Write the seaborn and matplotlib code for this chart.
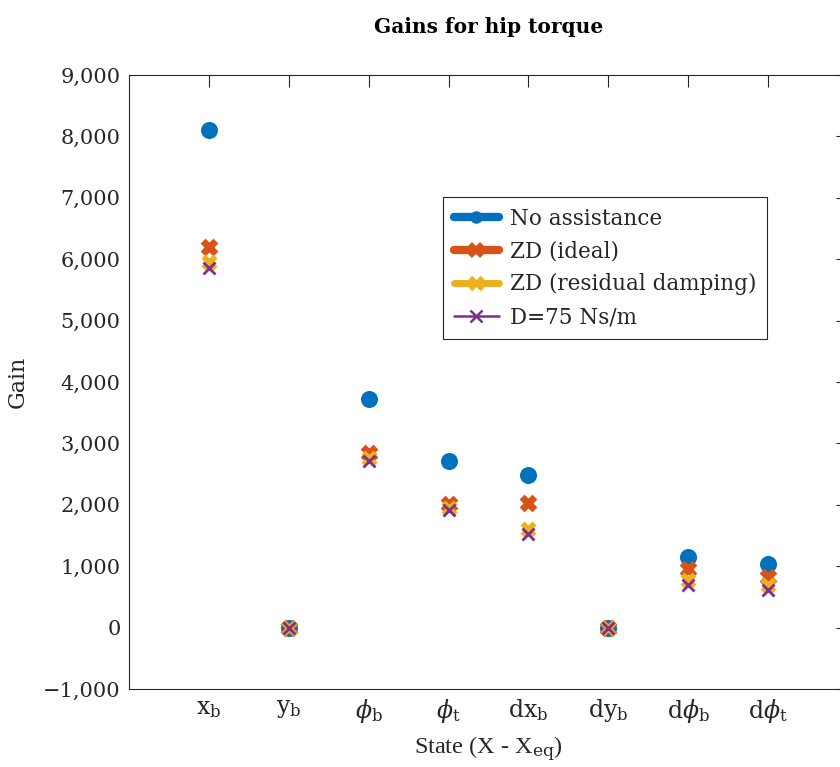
import numpy as np
import pandas as pd
import matplotlib
matplotlib.use("Agg")
import matplotlib.pyplot as plt
from matplotlib.lines import Line2D
from matplotlib.ticker import FixedLocator, FuncFormatter
import seaborn as sns

# State labels and controller gains for each assistance case
states = [r"$\mathrm{x_b}$", r"$\mathrm{y_b}$", r"$\phi_\mathrm{b}$", r"$\phi_\mathrm{t}$",
          r"$\mathrm{dx_b}$", r"$\mathrm{dy_b}$", r"$\mathrm{d}\phi_\mathrm{b}$", r"$\mathrm{d}\phi_\mathrm{t}$"]
no_assist = [8100, 0, 3720, 2720, 2480, 0, 1150, 1030]
zd_ideal = [6200, 0, 2850, 2020, 2030, 0, 950, 820]
zd_residual = [5950, 0, 2760, 1950, 1610, 0, 780, 690]
d75 = [5860, 0, 2710, 1910, 1530, 0, 700, 610]
series_names = ["No assistance", "ZD (ideal)", "ZD (residual damping)", "D=75 Ns/m"]
yticks = [-1000, 0, 1000, 2000, 3000, 4000, 5000, 6000, 7000, 8000, 9000]

colors = ["#0072BD", "#D95319", "#EDB120", "#7E2F8E"]

sns.set_theme(style="white")
plt.rcParams["font.family"] = ["DejaVu Serif"]
plt.rcParams["mathtext.fontset"] = "dejavuserif"

fig = plt.figure(figsize=(8.4, 7.67), dpi=100)
W, H = 840, 767
ax = fig.add_axes([129 / W, (H - 689) / H, (848 - 129) / W, 614 / H])

pos = np.arange(1, len(states) + 1)
frames = []
for name, vals in zip(series_names, [no_assist, zd_ideal, zd_residual, d75]):
    frames.append(pd.DataFrame({"pos": pos, "gain": vals, "series": name}))
df = pd.concat(frames, ignore_index=True)

styles = {
    "No assistance": dict(marker="o", s=95, linewidth=2.5),
    "ZD (ideal)": dict(marker="x", s=85, linewidth=5.0),
    "ZD (residual damping)": dict(marker="x", s=75, linewidth=4.0),
    "D=75 Ns/m": dict(marker="x", s=75, linewidth=2.0),
}
for name, col in zip(series_names, colors):
    sub = df[df["series"] == name]
    st = styles[name]
    kw = dict(edgecolor=col) if st["marker"] == "o" else {}
    sns.scatterplot(data=sub, x="pos", y="gain", ax=ax, color=col, marker=st["marker"],
                    s=st["s"], linewidth=st["linewidth"], legend=False, zorder=3, **kw)

ax.set_xlim(0, 9)
ax.set_ylim(-1000, 9000)
ax.xaxis.set_major_locator(FixedLocator(pos))
ax.set_xticklabels(states)
ax.yaxis.set_major_locator(FixedLocator(yticks))
ax.yaxis.set_major_formatter(FuncFormatter(lambda v, p: f"{v:,.0f}".replace("-", "\u2212")))

for sp in ax.spines.values():
    sp.set_visible(True)
    sp.set_color("#262626")
    sp.set_linewidth(0.8)
ax.tick_params(direction="in", length=8.5, width=0.8, color="#262626",
               top=True, right=True, labelsize=15, labelcolor="#262626")
ax.tick_params(axis="y", pad=6)
ax.tick_params(axis="x", pad=6, labelsize=17)
ax.grid(False)

ax.set_xlabel(r"State (X - X$_\mathrm{eq}$)", fontsize=17.5, family="Liberation Serif",
              color="#262626", labelpad=7)
ax.set_ylabel("Gain", fontsize=16, color="#262626", labelpad=10)
ax.set_title("Gains for hip torque", fontsize=14.5, fontweight="bold", pad=30, color="black")

handles = [
    Line2D([0], [0], color=colors[0], lw=6, marker="o", markersize=7, markeredgewidth=2),
    Line2D([0], [0], color=colors[1], lw=6, marker="x", markersize=8, markeredgewidth=4),
    Line2D([0], [0], color=colors[2], lw=5, marker="x", markersize=8, markeredgewidth=3.5),
    Line2D([0], [0], color=colors[3], lw=1.8, marker="x", markersize=8, markeredgewidth=1.8),
]
leg = ax.legend(handles, series_names, loc="upper left", bbox_to_anchor=((443 - 129) / 719, 1 - (197 - 75) / 614),
                fontsize=15.5, frameon=True, fancybox=False, edgecolor="#262626", framealpha=1,
                handlelength=2.1, handletextpad=0.5, borderpad=0.5, labelspacing=0.5, borderaxespad=0)
leg.get_frame().set_linewidth(0.8)

fig.savefig("out.png", dpi=100)
